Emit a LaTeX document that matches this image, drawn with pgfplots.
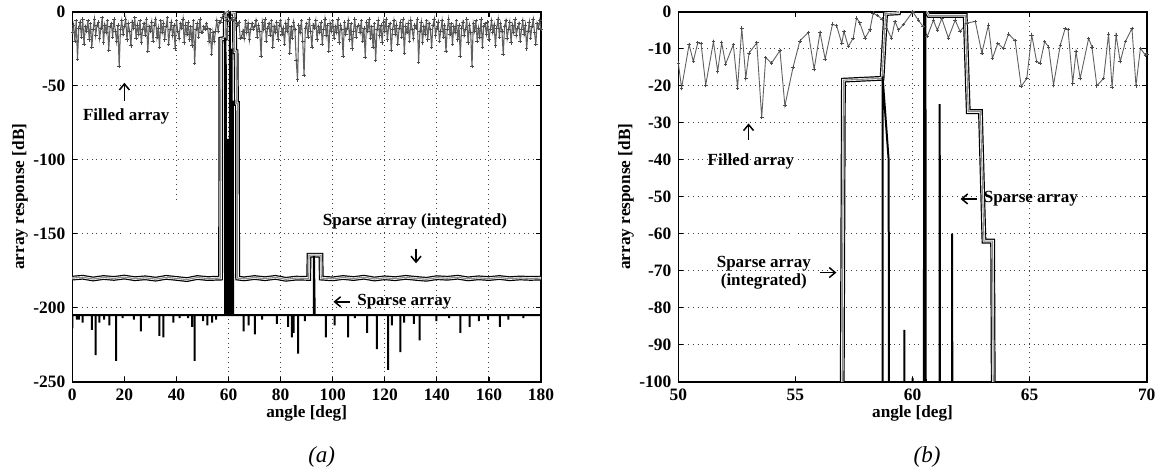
\documentclass[border=0pt]{standalone}
\usepackage{fontspec}
\setmainfont{Liberation Serif}
\usepackage{pgfplots}
\usepackage{pgfplotstable}
\pgfplotsset{compat=1.18}
\usetikzlibrary{arrows.meta}

% integrated sparse array (double line), same curve in both panels
\pgfplotstableread{
x y
0 -180
4 -179.4
8 -180.6
12 -179.6
16 -180.2
20 -179.3
24 -180.4
28 -179.8
32 -180.7
36 -179.5
40 -180.2
44 -181
48 -179.6
52 -180.3
56.95 -180
57.05 -18.5
58.7 -18
58.85 -0.5
59.4 -0.3
59.5 3
60.5 3
60.6 0
60.7 -1
62.25 -1
62.38 -27
62.9 -27
63.05 -62
63.42 -62
63.5 -180
66 -180.5
70 -179.6
74 -180.4
78 -179.5
82 -180.8
86 -180
90.8 -180.2
90.9 -164.5
95.5 -164.5
95.6 -180
100 -180.5
104 -179.6
108 -180.3
112 -179.4
116 -180.6
120 -179.8
124 -180.4
128 -179.5
132 -180.2
136 -180.8
140 -179.7
144 -180.1
148 -179.4
152 -180.5
156 -179.8
160 -180.3
164 -179.6
168 -180.4
172 -179.9
176 -180.2
180 -180
}\integ

\newcommand{\sparsedata}{(0,-214)(0,-205)(1.8,-205)(1.8,-208)(1.8,-205)(2.5,-205)(2.5,-208)(2.5,-205)(4,-205)(4,-210)(4,-205)(7.5,-205)(7.5,-215)(7.5,-205)(9,-205)(9,-232)(9,-205)(10.4,-205)(10.4,-210)(10.4,-205)(12.2,-205)(12.2,-208)(12.2,-205)(14.2,-205)(14.2,-212)(14.2,-205)(16.8,-205)(16.8,-236)(16.8,-205)(19.3,-205)(19.3,-207)(19.3,-205)(23.6,-205)(23.6,-208)(23.6,-205)(26.3,-205)(26.3,-216)(26.3,-205)(29.6,-205)(29.6,-207)(29.6,-205)(33.4,-205)(33.4,-219)(33.4,-205)(35,-205)(35,-220)(35,-205)(38.8,-205)(38.8,-210)(38.8,-205)(41.2,-205)(41.2,-207)(41.2,-205)(44.5,-205)(44.5,-207)(44.5,-205)(46,-205)(46,-213)(46,-205)(47,-205)(47,-236)(47,-205)(50.2,-205)(50.2,-209)(50.2,-205)(51.9,-205)(51.9,-212)(51.9,-205)(53.7,-205)(53.7,-210)(53.7,-205)(55.2,-205)(55.2,-208)(55.2,-205)
(58.72,-205)(58.72,-17.5)(58.98,-40)(59.02,-205)(59.65,-205)(59.65,-86)(59.68,-205)(60,-205)(60,-99)(60.02,-205)(60.47,-205)(60.5,0)(60.55,0)(60.58,-205)(61.16,-205)(61.16,-25)(61.19,-205)(61.69,-205)(61.69,-60)(61.72,-205)
(65.8,-205)(65.8,-216)(65.8,-205)(67.7,-205)(67.7,-212)(67.7,-205)(70.1,-205)(70.1,-218)(70.1,-205)(72.9,-205)(72.9,-208)(72.9,-205)(78.6,-205)(78.6,-211)(78.6,-205)(82.9,-205)(82.9,-213)(82.9,-205)(84.3,-205)(84.3,-220)(84.3,-205)(85,-205)(85,-217)(85,-205)(86.7,-205)(86.7,-231)(86.7,-205)(89.3,-205)(89.3,-209)(89.3,-205)(92.8,-205)(92.8,-165)(93.1,-205)(97.4,-205)(97.4,-220)(97.4,-205)(100.7,-205)(100.7,-212)(100.7,-205)(105.9,-205)(105.9,-220)(105.9,-205)(108.5,-205)(108.5,-207)(108.5,-205)(113.2,-205)(113.2,-217)(113.2,-205)(117,-205)(117,-228)(117,-205)(121.3,-205)(121.3,-242)(121.3,-205)(122.7,-205)(122.7,-212)(122.7,-205)(126,-205)(126,-230)(126,-205)(127.4,-205)(127.4,-210)(127.4,-205)(131.2,-205)(131.2,-211)(131.2,-205)(133.4,-205)(133.4,-222)(133.4,-205)(139.8,-205)(139.8,-209)(139.8,-205)(144.7,-205)(144.7,-207)(144.7,-205)(149,-205)(149,-217)(149,-205)(152.6,-205)(152.6,-213)(152.6,-205)(156.1,-205)(156.1,-209)(156.1,-205)(159.7,-205)(159.7,-208)(159.7,-205)(164.2,-205)(164.2,-213)(164.2,-205)(167.5,-205)(167.5,-208)(167.5,-205)(173.2,-205)(173.2,-207)(173.2,-205)(180,-205)}

\tikzset{
  txt/.style={font=\bfseries\fontsize{8.5}{9}\selectfont, inner sep=0pt},
  arr/.style={-{Straight Barb[length=3pt,width=5pt]}, line width=0.75pt, black},
}

\pgfplotsset{
  panel/.style={
    scale only axis, height=185pt,
    tick align=inside, major tick length=2.5pt,
    axis line style={line width=0.8pt},
    every tick/.style={black, line width=0.6pt},
    xmajorgrids=true, ymajorgrids=true,
    major grid style={dotted, line width=0.55pt, black!75},
    /pgf/number format/assume math mode=true,
    tick label style={font=\bfseries\fontsize{8.7}{9}\selectfont},
    label style={font=\bfseries\fontsize{8.6}{10}\selectfont},
    xlabel={angle [deg]}, ylabel={array response [dB]},
    x label style={at={(axis description cs:0.5,-0.0846)}, anchor=center},
    y label style={at={(axis description cs:-0.1116,0.5)}, anchor=center},
    clip=true,
  },
  dbl1/.style={black, line width=2.4pt},
  dbl2/.style={white, line width=1.2pt},
  dbl3/.style={black!45, line width=0.55pt},
  sparse/.style={black, line width=1pt, line join=bevel},
  filled/.style={black!62, line width=0.55pt, mark=+, mark size=0.9pt, mark options={line width=0.35pt, black!70}},
}

\begin{document}
\begin{tikzpicture}
\useasboundingbox (0,0) rectangle (580pt,-234pt);

\begin{axis}[panel, at={(36.15pt,-190.85pt)}, anchor=south west, width=234.35pt,
  xmin=0, xmax=180, ymin=-250, ymax=0,
  xtick={0,20,...,180}, ytick={-250,-200,...,0}]
\draw[white, line width=1.2pt] (20,-4) -- (20,-246);
\draw[white, line width=1.2pt] (40,-129) -- (40,-246);
\addplot[filled] coordinates {
(0,-14)(0.5,-9)(1,-20)(1.5,-6)(2,-32)(2.5,-11)(3,-7)(3.5,-17)(4,-5)(4.5,-22)
(5,-10)(5.5,-13)(6,-6)(6.5,-19)(7,-8)(7.5,-24)(8,-12)(8.5,-5)(9,-16)(9.5,-9)
(10,-7)(10.5,-18)(11,-11)(11.5,-4)(12,-21)(12.5,-9)(13,-14)(13.5,-6)(14,-26)(14.5,-10)
(15,-8)(15.5,-17)(16,-5)(16.5,-13)(17,-20)(17.5,-9)(18,-37)(18.5,-12)(19,-6)(19.5,-15)
(20,-10)(20.5,-5)(21,-19)(21.5,-8)(22,-13)(22.5,-23)(23,-7)(23.5,-11)(24,-4)(24.5,-18)
(25,-9)(25.5,-15)(26,-6)(26.5,-21)(27,-12)(27.5,-8)(28,-16)(28.5,-5)(29,-27)(29.5,-10)
(30,-13)(30.5,-7)(31,-20)(31.5,-9)(32,-5)(32.5,-17)(33,-11)(33.5,-24)(34,-6)(34.5,-14)
(35,-8)(35.5,-19)(36,-10)(36.5,-4)(37,-22)(37.5,-12)(38,-7)(38.5,-16)(39,-9)(39.5,-25)
(40,-6)(40.5,-13)(41,-18)(41.5,-8)(42,-11)(42.5,-5)(43,-21)(43.5,-9)(44,-15)(44.5,-7)
(45,-19)(45.5,-10)(46,-23)(46.5,-6)(47,-35)(47.5,-12)(48,-8)(48.5,-17)(49,-5)(49.5,-14)
(50,-14)(50.5,-10)(51,-12)(51.5,-8)(52,-11)(52.5,-20)(53,-12)(53.5,-29)(54,-14)(54.5,-20)(55,-13)(55.5,-6)
(56,-13)(56.5,-7)(57,-7)(57.5,-4)(58,-2)(58.5,-1)(59,-6)(59.5,-4)(60,0)(60.5,-6)(61,-5)(61.5,-4)(62,-6)(62.5,-5)(63,-8)(63.5,-9)(64,-7)
(64.5,-18)(65,-17)(65.5,-13)(66,-18)(66.5,-6)(67,-14)(67.5,-8)(68,-19)(68.5,-12)(69,-8)(69.5,-12)
(70,-10)(70.5,-6)(71,-17)(71.5,-9)(72,-13)(72.5,-30)(73,-7)(73.5,-12)(74,-5)(74.5,-20)
(75,-11)(75.5,-8)(76,-16)(76.5,-6)(77,-24)(77.5,-10)(78,-14)(78.5,-7)(79,-19)(79.5,-9)
(80,-6)(80.5,-15)(81,-11)(81.5,-22)(82,-8)(82.5,-13)(83,-5)(83.5,-28)(84,-10)(84.5,-18)
(85,-7)(85.5,-12)(86,-33)(86.5,-46)(87,-9)(87.5,-14)(88,-6)(88.5,-20)(89,-43)(89.5,-11)
(90,-8)(90.5,-17)(91,-5)(91.5,-13)(92,-24)(92.5,-9)(93,-11)(93.5,-6)(94,-19)(94.5,-10)
(95,-14)(95.5,-7)(96,-22)(96.5,-12)(97,-5)(97.5,-16)(98,-9)(98.5,-27)(99,-8)(99.5,-13)
(100,-6)(100.5,-18)(101,-10)(101.5,-14)(102,-5)(102.5,-21)(103,-9)(103.5,-12)(104,-30)(104.5,-7)
(105,-15)(105.5,-11)(106,-6)(106.5,-19)(107,-8)(107.5,-25)(108,-13)(108.5,-5)(109,-17)(109.5,-10)
(110,-9)(110.5,-14)(111,-6)(111.5,-20)(112,-11)(112.5,-31)(113,-7)(113.5,-13)(114,-5)(114.5,-18)
(115,-10)(115.5,-24)(116,-8)(116.5,-33)(117,-12)(117.5,-6)(118,-16)(118.5,-9)(119,-21)(119.5,-7)
(120,-13)(120.5,-5)(121,-19)(121.5,-10)(122,-8)(122.5,-26)(123,-12)(123.5,-6)(124,-15)(124.5,-9)
(125,-22)(125.5,-11)(126,-7)(126.5,-17)(127,-5)(127.5,-28)(128,-10)(128.5,-14)(129,-8)(129.5,-20)
(130,-6)(130.5,-12)(131,-18)(131.5,-9)(132,-11)(132.5,-5)(133,-34)(133.5,-13)(134,-7)(134.5,-21)
(135,-10)(135.5,-15)(136,-6)(136.5,-19)(137,-8)(137.5,-12)(138,-24)(138.5,-9)(139,-5)(139.5,-16)
(140,-11)(140.5,-7)(141,-20)(141.5,-13)(142,-6)(142.5,-17)(143,-9)(143.5,-27)(144,-12)(144.5,-5)
(145,-15)(145.5,-8)(146,-22)(146.5,-10)(147,-14)(147.5,-6)(148,-19)(148.5,-9)(149,-30)(149.5,-11)
(150,-7)(150.5,-16)(151,-12)(151.5,-5)(152,-21)(152.5,-9)(153,-14)(153.5,-37)(154,-8)(154.5,-13)
(155,-6)(155.5,-20)(156,-11)(156.5,-17)(157,-5)(157.5,-24)(158,-10)(158.5,-8)(159,-15)(159.5,-7)
(160,-19)(160.5,-12)(161,-6)(161.5,-14)(162,-9)(162.5,-23)(163,-11)(163.5,-5)(164,-17)(164.5,-8)
(165,-13)(165.5,-29)(166,-10)(166.5,-6)(167,-18)(167.5,-12)(168,-7)(168.5,-21)(169,-9)(169.5,-14)
(170,-5)(170.5,-16)(171,-11)(171.5,-8)(172,-20)(172.5,-12)(173,-6)(173.5,-15)(174,-9)(174.5,-25)
(175,-13)(175.5,-7)(176,-18)(176.5,-10)(177,-5)(177.5,-14)(178,-22)(178.5,-8)(179,-11)(179.5,-6)(180,-12)
};
\addplot[dbl1] table {\integ};
\addplot[dbl2] table {\integ};
\addplot[dbl3] table {\integ};
\addplot[sparse] coordinates {\sparsedata};
\draw[arr] (20,-60) -- (20,-48);
\node[txt] at (20.7,-71) {Filled array};
\node[txt] at (131.6,-141.9) {Sparse array (integrated)};
\draw[arr] (132,-160) -- (132,-170);
\draw[arr] (106.5,-196) -- (100.3,-196);
\node[txt] at (127.5,-196) {Sparse array};
\end{axis}

\begin{axis}[panel, at={(339.15pt,-190.85pt)}, anchor=south west, width=234.2pt,
  xmin=50, xmax=70, ymin=-100, ymax=0,
  xtick={50,55,...,70}, ytick={-100,-90,...,0}]
\draw[white, line width=1.2pt] (55,-1.5) -- (55,-98.5);
\draw[white, line width=1.2pt] (60,-51.5) -- (60,-98.5);
\addplot[filled, line width=0.45pt] coordinates {
(50,-13.9)(50.14,-20.6)(50.46,-8.9)(50.64,-13.4)(50.83,-8.4)(50.97,-8.6)(51.17,-19.8)(51.5,-8.1)(51.68,-16.1)(51.85,-8.4)
(52.02,-14.1)(52.35,-8.9)(52.53,-20.6)(52.71,-4.4)(52.88,-17.9)(53.02,-11.2)(53.35,-8.4)(53.56,-28.6)(53.73,-12.4)(53.98,-13.9)
(54.34,-10.5)(54.55,-25.4)(54.9,-15)(55.19,-7.9)(55.55,-5.6)(55.8,-15.5)(56.05,-5.6)(56.27,-12.8)(56.58,-3.4)(56.76,-3.8)
(56.98,-8.6)(57.07,-5.3)(57.26,-9.4)(57.47,-7.1)(57.61,-1.7)(57.75,-3)(57.97,-7.1)(58.18,-4.9)(58.32,-0.4)(58.5,-1)
(58.7,-2)(58.89,-4.4)(59.1,-7.1)(59.25,-2.6)(59.4,-4.9)(59.61,-3.5)(60.01,0)(60.25,-2.3)(60.45,-4)(60.63,-6.7)
(60.89,-2.3)(61.06,-5)(61.25,-1.8)(61.53,-7.1)(61.82,-2.3)(62.03,-5.3)(62.32,-3.1)(62.68,-2.6)(62.96,-11.2)(63.24,-3.6)
(63.41,-12.6)(63.64,-8.6)(63.88,-9.9)(64.1,-6)(64.38,-7.8)(64.64,-20.2)(64.88,-18)(65.09,-6.3)(65.3,-13.5)(65.45,-13.9)
(65.64,-8.1)(65.81,-9.5)(66.02,-19.8)(66.31,-9)(66.52,-4.5)(66.64,-4.8)(66.84,-19.3)(66.98,-10.8)(67.16,-18)(67.52,-7.2)
(67.66,-9.5)(67.87,-20)(68.16,-18)(68.37,-6)(68.52,-20.5)(68.69,-6.3)(68.87,-13.5)(69.09,-8.1)(69.37,-4.5)(69.54,-20)
(69.73,-9.9)(69.94,-11.7)(70,-11.5)
};
\addplot[dbl1] table {\integ};
\addplot[dbl2] table {\integ};
\addplot[dbl3] table {\integ};
\addplot[sparse] coordinates {\sparsedata};
\draw[arr] (53,-34.8) -- (53,-30.2);
\node[txt] at (53.1,-40.4) {Filled array};
\draw[arr] (62.75,-50.6) -- (62.05,-50.6);
\node[txt] at (65.05,-50.6) {Sparse array};
\node[txt, align=center] at (53.65,-70.5) {Sparse array\\(integrated)};
\draw[arr] (56.05,-70.5) -- (56.75,-70.5);
\end{axis}

\node[font=\itshape\fontsize{11.5}{12}\selectfont] at (160.85pt,-228.5pt) {(a)};
\node[font=\itshape\fontsize{11.5}{12}\selectfont] at (463.5pt,-228.5pt) {(b)};
\end{tikzpicture}
\end{document}
